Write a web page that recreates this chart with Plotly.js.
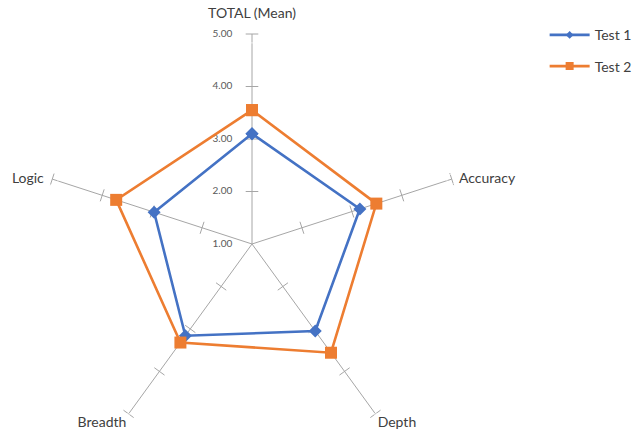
<!DOCTYPE html>
<html>
<head>
<meta charset="utf-8">
<script src="https://cdn.plot.ly/plotly-3.0.1.min.js"></script>
<style>
html,body{margin:0;padding:0;background:#fff;}
#wrap{width:637px;height:430px;overflow:hidden;position:relative;}
#chart{width:637px;height:460px;}
</style>
</head>
<body>
<div id="wrap"><div id="chart"></div></div>
<script>
const categories = ["TOTAL (Mean)", "Accuracy", "Depth", "Breadth", "Logic"];
const test1 = [3.10, 3.16, 3.05, 3.16, 2.96];
const test2 = [3.55, 3.49, 3.56, 3.32, 3.72];
const radialTicks = [1, 2, 3, 4, 5];
const radialTickLabels = ["1.00", "2.00", "3.00", "4.00", "5.00"];
const spokeTickValues = [2, 3, 4, 5];
const axisMax = 5;

const closeLoop = a => a.concat([a[0]]);

// tick marks on every spoke
const tr = [], tt = [], ta = [];
categories.forEach((c, i) => {
  spokeTickValues.forEach(v => {
    tr.push(v); tt.push(c); ta.push(i * 360 / categories.length);
  });
});

const traces = [
  {
    type: "scatterpolar", mode: "markers", r: tr, theta: tt,
    marker: {symbol: "line-ew", size: 9, angle: ta, line: {color: "#a6a6a6", width: 1}},
    showlegend: false, hoverinfo: "skip"
  },
  // radial tick labels
  {
    type: "scatterpolar", mode: "markers+text",
    r: radialTicks, theta: radialTicks.map(() => categories[0]),
    text: radialTickLabels, textposition: "middle left",
    marker: {size: 30, color: "rgba(0,0,0,0)"},
    textfont: {size: 10, color: "#595959"},
    cliponaxis: false, showlegend: false, hoverinfo: "skip"
  },
  // category labels
  {
    type: "scatterpolar", mode: "markers+text",
    r: categories.map(() => axisMax), theta: categories,
    text: categories,
    textposition: ["top center", "middle right", "bottom right", "bottom left", "middle left"],
    marker: {size: [18, 10, 2, 2, 12], color: "rgba(0,0,0,0)"},
    textfont: {size: 14, color: "#404040"},
    cliponaxis: false, showlegend: false, hoverinfo: "skip"
  },
  {
    type: "scatterpolar", mode: "lines+markers", name: "Test 1",
    r: closeLoop(test1), theta: closeLoop(categories),
    line: {color: "#4472C4", width: 2.6},
    marker: {symbol: "diamond", size: 10, color: "#4472C4"},
    showlegend: false, legendgroup: "a"
  },
  {
    type: "scatterpolar", mode: "lines+markers", name: "Test 2",
    r: closeLoop(test2), theta: closeLoop(categories),
    line: {color: "#ED7D31", width: 2.6},
    marker: {symbol: "square", size: 12, color: "#ED7D31"},
    showlegend: false, legendgroup: "b"
  },
  // legend entries (smaller legend markers as in the reference)
  {
    type: "scatterpolar", mode: "lines+markers", name: "Test 1",
    r: [null], theta: [null],
    line: {color: "#4472C4", width: 2.6},
    marker: {symbol: "diamond", size: 6, color: "#4472C4"},
    legendgroup: "a", hoverinfo: "skip"
  },
  {
    type: "scatterpolar", mode: "lines+markers", name: "Test 2",
    r: [null], theta: [null],
    line: {color: "#ED7D31", width: 2.6},
    marker: {symbol: "square", size: 8, color: "#ED7D31"},
    legendgroup: "b", hoverinfo: "skip"
  }
];

const layout = {
  width: 637, height: 460,
  margin: {l: 0, r: 0, t: 0, b: 0},
  paper_bgcolor: "#fff",
  font: {family: "Lato, 'Liberation Sans', sans-serif", size: 11, color: "#404040"},
  showlegend: true,
  legend: {x: 0.855, y: 0.958, xanchor: "left", yanchor: "top", traceorder: "grouped",
           tracegroupgap: 10, itemwidth: 40,
           font: {size: 14, color: "#404040"}, bgcolor: "rgba(0,0,0,0)"},
  polar: {
    domain: {x: [42/637, 462/637], y: [1 - 454/460, 1 - 34/460]},
    bgcolor: "#fff",
    gridshape: "circular",
    radialaxis: {
      range: [1, 5], angle: 90,
      showticklabels: false,
      showgrid: false, showline: false, ticks: "", layer: "below traces"
    },
    angularaxis: {
      rotation: 90, direction: "clockwise",
      showgrid: true, gridcolor: "#a6a6a6", gridwidth: 1,
      showline: false, ticks: "", showticklabels: false, layer: "below traces"
    }
  }
};

Plotly.newPlot("chart", traces, layout, {displayModeBar: false, staticPlot: true});
</script>
</body>
</html>
